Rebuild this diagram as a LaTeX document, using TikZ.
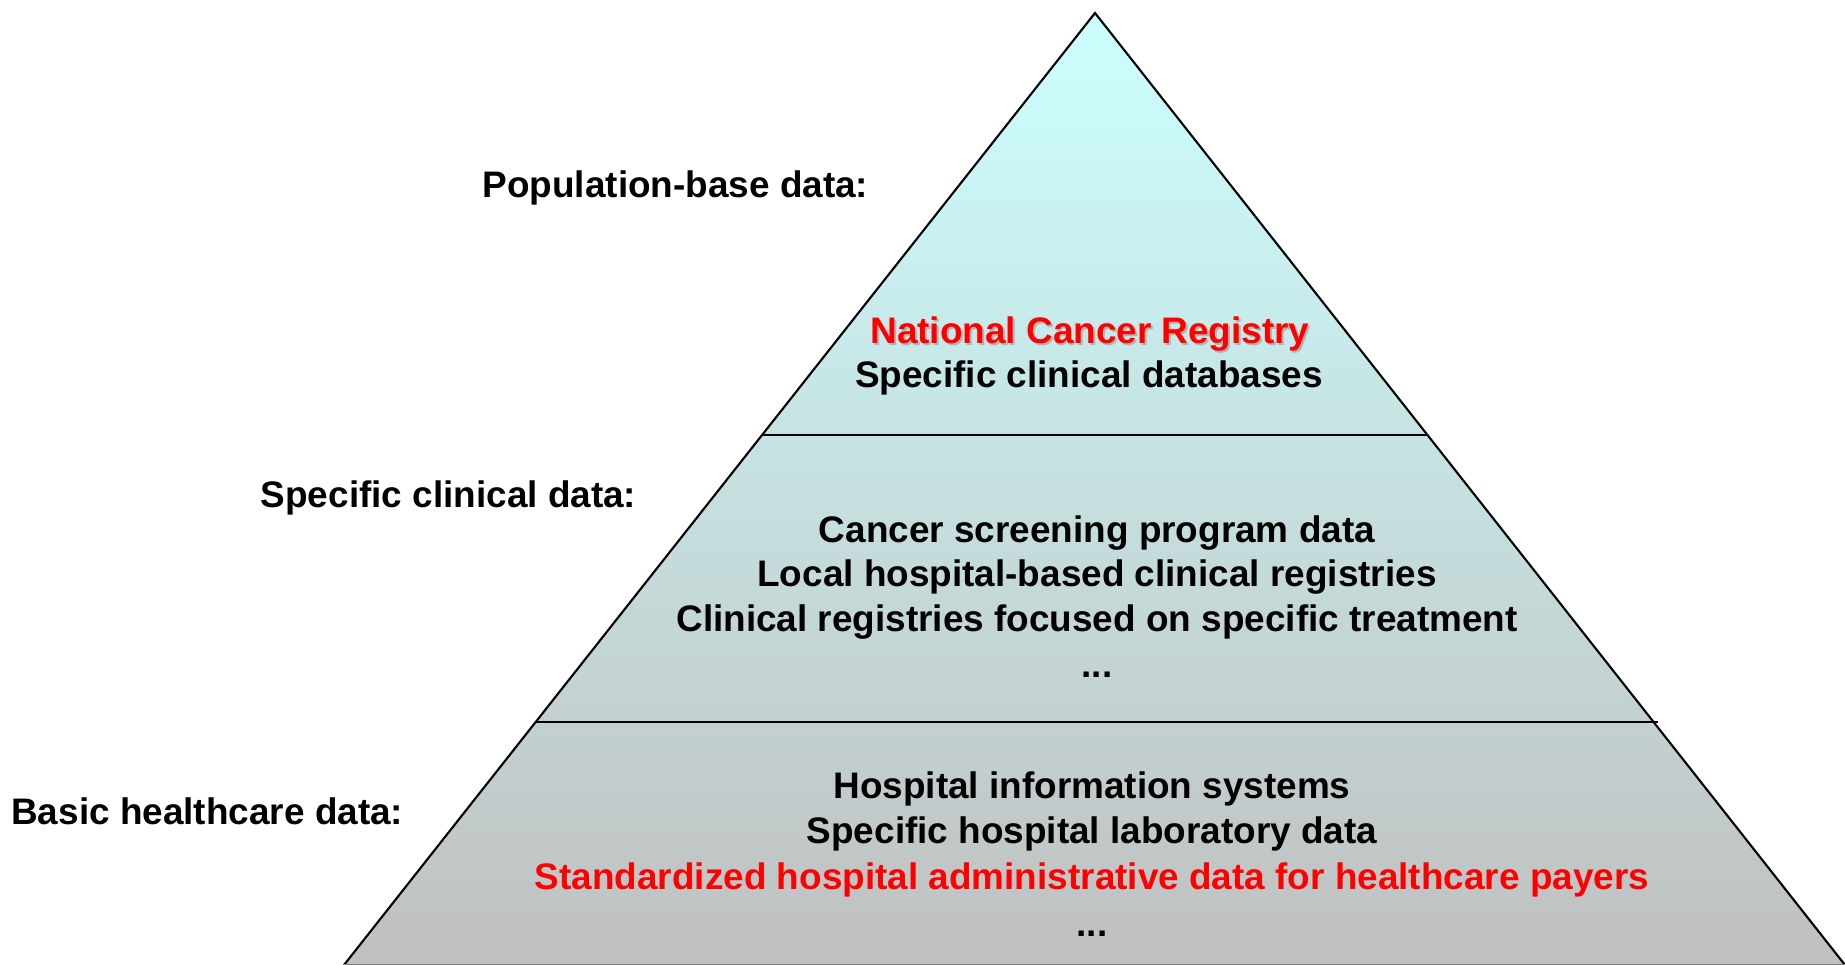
\documentclass[tikz,border=0pt]{standalone}
\usepackage{fontspec}
\setmainfont{Liberation Sans}
\definecolor{pyrtop}{RGB}{204,255,255}
\definecolor{pyrbot}{RGB}{192,192,192}
\definecolor{txtred}{RGB}{255,0,0}
\tikzset{
	txt/.style={font=\fontsize{10.5}{12.7}\selectfont\bfseries, inner sep=0pt, anchor=base},
	lbl/.style={txt, anchor=base east},
}

\begin{document}
\begin{tikzpicture}[x=0.01cm,y=-0.01cm]
		
		\useasboundingbox (0,0) rectangle (1845,965);
		
		% pyramid
		\coordinate (apex) at (1095,13);
		\coordinate (bl) at (344,965);
		\coordinate (br) at (1845,965);
		\shade[top color=pyrtop, bottom color=pyrbot] (apex) -- (bl) -- (br) -- cycle;
		\draw[line width=0.6pt] (bl) -- (apex) -- (br);
		\draw[line width=0.6pt, color=gray] (bl) -- (br);
		
		\coordinate (d1l) at (762,435); \coordinate (d1r) at (1428,435);
		\coordinate (d2l) at (535,722); \coordinate (d2r) at (1658,722);
		\draw[line width=0.6pt] (d1l) -- (d1r);
		\draw[line width=0.6pt] (d2l) -- (d2r);
		
		% labels on the left
		\node[lbl] (poplbl) at (869,198) {Population-base data:};
		\node[lbl] (cliniclbl) at (637,508) {Specific clinical data:};
		\node[lbl] (basiclbl) at (404,825) {Basic healthcare data:};
		
		% top tier
		\node[txt, color=black!30] (ncrshadow) at (1092,346) {National Cancer Registry};
		\node[txt, color=txtred] (ncr) at (1090,344) {National Cancer Registry};
		\node[txt] (scdb) at (1089,388) {Specific clinical databases};
		
		% middle tier
		\node[txt] (screen) at (1097,543) {Cancer screening program data};
		\node[txt] (localreg) at (1097,587) {Local hospital-based clinical registries};
		\node[txt] (treatreg) at (1097,632) {Clinical registries focused on specific treatment};
		\node[txt] (middots) at (1097,678) {...};
		
		% bottom tier
		\node[txt] (his) at (1092,799) {Hospital information systems};
		\node[txt] (labdata) at (1092,844) {Specific hospital laboratory data};
		\node[txt, color=txtred] (admin) at (1092,890) {Standardized hospital administrative data for healthcare payers};
		\node[txt] (botdots) at (1092,937) {...};
		
	\end{tikzpicture}
\end{document}
